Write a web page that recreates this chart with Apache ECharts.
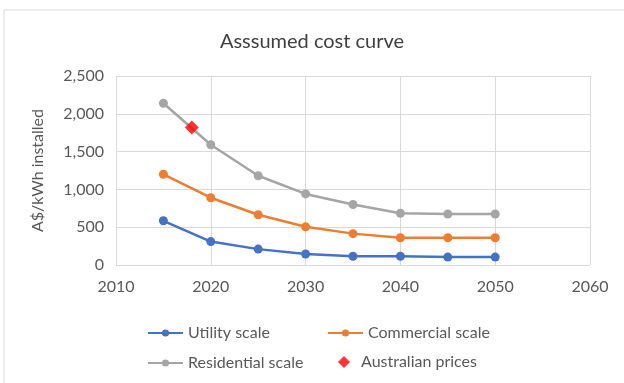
<!DOCTYPE html>
<html>
<head>
<meta charset="utf-8">
<script src="https://cdn.jsdelivr.net/npm/echarts@6/dist/echarts.min.js"></script>
<style>
  html, body { margin: 0; padding: 0; background: #fff; }
  #chart { width: 624px; height: 383px; }
</style>
</head>
<body>
<div id="chart"></div>
<script>
// values
const years = [2015, 2020, 2025, 2030, 2035, 2040, 2045, 2050];
const utility = [585, 310, 210, 145, 115, 115, 105, 105];
const commercial = [1200, 890, 665, 505, 415, 360, 360, 360];
const residential = [2140, 1590, 1180, 940, 800, 685, 675, 675];
const australianYear = [2018];
const australianPrice = [1820];

const font = 'Lato, "Open Sans", sans-serif';
const textColor = '#595959';
const chart = echarts.init(document.getElementById('chart'));

function lineSeries(name, values, color) {
    return {
        name: name,
        type: 'line',
        data: years.map((y, i) => [y, values[i]]),
        symbol: 'circle',
        symbolSize: 9,
        color: color,
        lineStyle: { width: 2.5 },
        z: 3
    };
}

const legendText = { fontFamily: font, fontSize: 16, color: textColor };

const option = {
    animation: false,
    title: {
        text: 'Asssumed cost curve',
        left: 'center',
        top: 27,
        textStyle: { fontFamily: font, fontSize: 20, fontWeight: 'normal', color: '#404040' }
    },
    graphic: [{
        type: 'rect',
        shape: { x: 4, y: 10, width: 700, height: 500 },
        style: { fill: 'none', stroke: '#d9d9d9', lineWidth: 1 },
        silent: true
    }],
    grid: { left: 116, right: 34, top: 76, bottom: 118 },
    xAxis: {
        type: 'value',
        min: 2010,
        max: 2060,
        interval: 10,
        axisLine: { show: false },
        axisTick: { show: false },
        splitLine: { lineStyle: { color: '#d9d9d9' } },
        axisLabel: { fontFamily: font, fontSize: 16, color: textColor, margin: 14, formatter: v => String(v) }
    },
    yAxis: {
        type: 'value',
        min: 0,
        max: 2500,
        interval: 500,
        name: 'A$/kWh installed',
        nameLocation: 'middle',
        nameGap: 70,
        nameTextStyle: { fontFamily: font, fontSize: 16, color: textColor },
        axisLine: { show: false },
        axisTick: { show: false },
        splitLine: { lineStyle: { color: '#d9d9d9' } },
        axisLabel: {
            fontFamily: font, fontSize: 16, color: textColor, margin: 12,
            formatter: v => v.toLocaleString('en-US')
        }
    },
    legend: [
        {
            data: ['Utility scale', 'Residential scale'],
            orient: 'vertical',
            left: 142, top: 320,
            itemGap: 14, itemWidth: 35, itemHeight: 9,
            textStyle: legendText
        },
        {
            data: ['Commercial scale'],
            left: 322, top: 320,
            itemWidth: 35, itemHeight: 9,
            textStyle: legendText
        },
        {
            data: ['Australian prices'],
            left: 333, top: 349,
            itemWidth: 12, itemHeight: 12,
            textStyle: Object.assign({ padding: [0, 0, 0, 6] }, legendText)
        }
    ],
    series: [
        lineSeries('Utility scale', utility, '#4472C4'),
        lineSeries('Commercial scale', commercial, '#ED7D31'),
        lineSeries('Residential scale', residential, '#A5A5A5'),
        {
            name: 'Australian prices',
            type: 'scatter',
            data: australianYear.map((y, i) => [y, australianPrice[i]]),
            symbol: 'diamond',
            symbolSize: 14,
            color: '#FF0000',
            z: 5
        }
    ]
};
chart.setOption(option);
</script>
</body>
</html>
